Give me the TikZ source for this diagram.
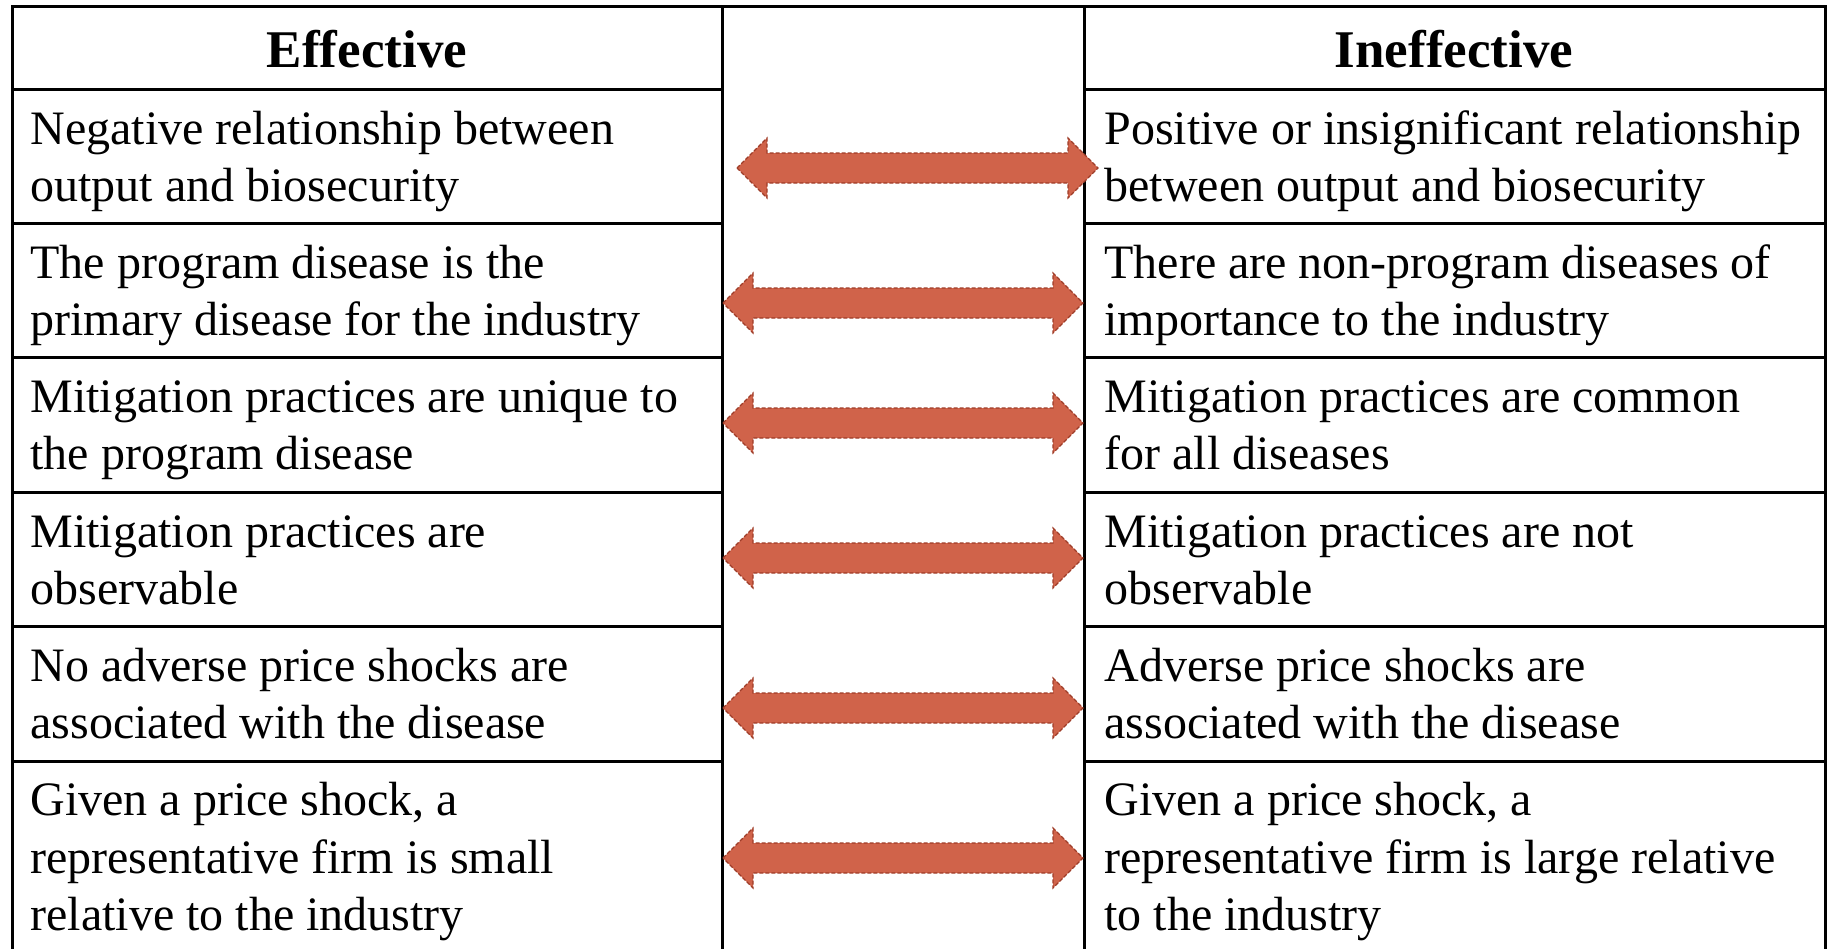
\documentclass[tikz,border=0pt]{standalone}
\usepackage{fontspec}
\setmainfont{Liberation Serif}
\definecolor{arrfill}{RGB}{208,99,74}
\definecolor{arrline}{RGB}{158,60,40}
\newcommand\dblarr[4]{%
  \coordinate (#1w) at (#2,#4);
  \coordinate (#1e) at (#3,#4);
  \draw[dbl] (#1w) -- (#2+30,#4-30) -- (#2+30,#4-15) -- (#3-30,#4-15) -- (#3-30,#4-30)
    -- (#1e) -- (#3-30,#4+30) -- (#3-30,#4+15) -- (#2+30,#4+15) -- (#2+30,#4+30) -- cycle;}
\begin{document}
\begin{tikzpicture}[x=0.5pt,y=-0.5pt,
  grid/.style={line width=1.5pt, line cap=rect},
  cell/.style={anchor=north west, inner sep=0pt, align=left,
    font=\fontsize{24pt}{28.75pt}\selectfont},
  head/.style={anchor=base, inner sep=0pt,
    font=\fontsize{26.5pt}{32pt}\selectfont\bfseries},
  dbl/.style={fill=arrfill, draw=arrline, line width=0.6pt, dash pattern=on 2pt off 1pt, line join=miter}]
\useasboundingbox (0,0) rectangle (1830,948);
% grid
\draw[grid] (12,6) -- (1825,6);
\foreach \x in {12,722,1084,1825} {\draw[grid] (\x,6) -- (\x,952);}
\foreach \y in {89,223,357,492,626,761} {
  \draw[grid] (12,\y) -- (722,\y);
  \draw[grid] (1084,\y) -- (1825,\y);
}
% headers
\node[head] (hE) at (367,67) {Effective};
\node[head] (hI) at (1454,67) {Ineffective};
% left cells
\node[cell] (L1) at (30,103.75) {\strut Negative relationship between\\output and biosecurity};
\node[cell] (L2) at (30,237.75) {\strut The program disease is the\\primary disease for the industry};
\node[cell] (L3) at (30,371.75) {\strut Mitigation practices are unique to\\the program disease};
\node[cell] (L4) at (30,506.75) {\strut Mitigation practices are\\observable};
\node[cell] (L5) at (30,640.75) {\strut No adverse price shocks are\\associated with the disease};
\node[cell] (L6) at (30,775.25) {\strut Given a price shock, a\\representative firm is small\\relative to the industry};
% right cells
\node[cell] (R1) at (1104,103.75) {\strut Positive or insignificant relationship\\between output and biosecurity};
\node[cell] (R2) at (1104,237.75) {\strut There are non-program diseases of\\importance to the industry};
\node[cell] (R3) at (1104,371.75) {\strut Mitigation practices are common\\for all diseases};
\node[cell] (R4) at (1104,506.75) {\strut Mitigation practices are not\\observable};
\node[cell] (R5) at (1104,640.75) {\strut Adverse price shocks are\\associated with the disease};
\node[cell] (R6) at (1104,775.25) {\strut Given a price shock, a\\representative firm is large relative\\to the industry};
% arrows
\dblarr{a1}{737}{1098}{168}
\dblarr{a2}{723}{1083}{303}
\dblarr{a3}{723}{1083}{423}
\dblarr{a4}{723}{1083}{558}
\dblarr{a5}{723}{1083}{708}
\dblarr{a6}{723}{1083}{858}
\end{tikzpicture}
\end{document}
